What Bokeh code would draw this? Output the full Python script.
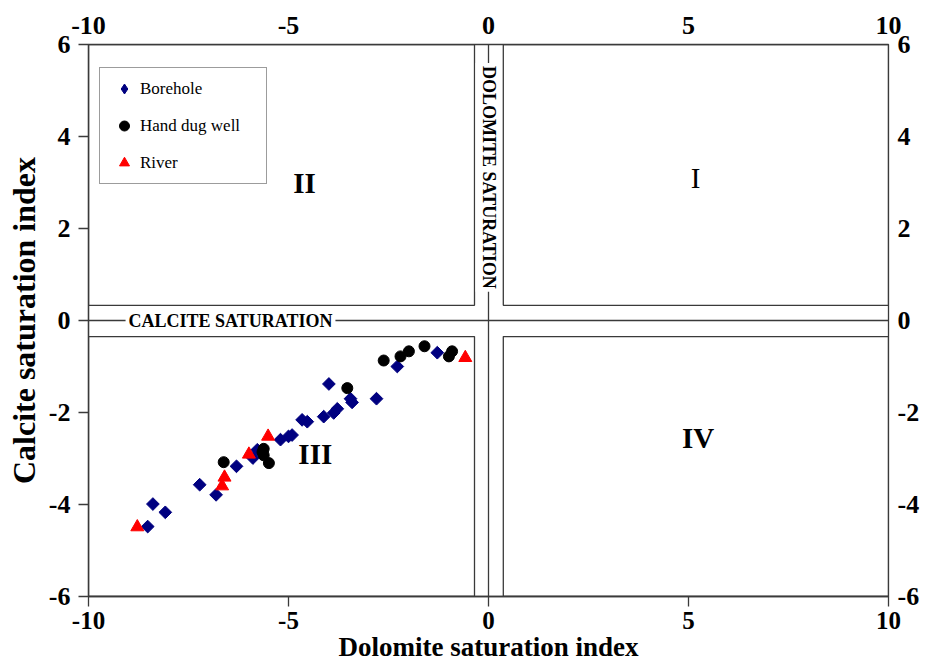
import numpy as np
from bokeh.plotting import figure
from bokeh.models import LinearAxis, FixedTicker, Span, Label
from bokeh.embed import file_html
from bokeh.resources import INLINE

# ---- data ----
borehole_x = [-8.52, -8.39, -8.08, -7.22, -6.81, -6.30, -5.89, -5.78, -5.20, -5.00, -4.91,
              -4.66, -4.53, -4.12, -3.87, -3.78, -3.99, -3.45, -3.41, -2.80, -2.28, -1.28]
borehole_y = [-4.48, -3.99, -4.17, -3.57, -3.79, -3.17, -2.99, -2.81, -2.59, -2.52, -2.49,
              -2.16, -2.20, -2.09, -2.01, -1.92, -1.38, -1.70, -1.78, -1.70, -1.00, -0.70]

well_x = [-6.62, -5.62, -5.62, -5.65, -5.49, -3.53, -2.62, -2.20, -1.99, -1.60, -0.99, -0.91]
well_y = [-3.08, -2.79, -2.93, -2.86, -3.10, -1.47, -0.87, -0.78, -0.67, -0.56, -0.78, -0.67]

river_x = [-8.78, -6.66, -6.60, -5.99, -5.51, -0.58]
river_y = [-4.49, -3.60, -3.41, -2.91, -2.52, -0.81]

x_ticks = [-10, -5, 0, 5, 10]
y_ticks = [-6, -4, -2, 0, 2, 4, 6]

# quadrant frames
box_left = [-10, 0.37, -10, 0.37]
box_right = [-0.35, 10, -0.35, 10]
box_top = [6, 6, -0.35, -0.35]
box_bottom = [0.33, 0.33, -6, -6]

quad_names = ["I", "II", "III", "IV"]
quad_x = [5.18, -4.6, -4.33, 5.24]
quad_y = [3.1, 2.98, -2.9, -2.55]
quad_style = ["normal", "bold", "bold", "bold"]

SERIF = "Liberation Serif"
LINE = "#3a3a3a"

p = figure(width=927, height=669, x_range=(-10, 10), y_range=(-6, 6),
           output_backend="svg", toolbar_location=None,
           min_border_left=88, min_border_right=39, min_border_top=44, min_border_bottom=73)
p.xgrid.visible = False
p.ygrid.visible = False
p.background_fill_color = "white"
p.border_fill_color = "white"
p.outline_line_color = LINE
p.outline_line_width = 1.3

def style_axis(ax, ticks, tick_out, standoff, line=True, size="26px"):
    ax.ticker = FixedTicker(ticks=ticks)
    ax.major_label_overrides = {t: str(t) for t in ticks}
    ax.major_label_text_font = SERIF
    ax.major_label_text_font_style = "bold"
    ax.major_label_text_font_size = size
    ax.major_label_text_color = "black"
    ax.major_tick_out = tick_out
    ax.major_tick_in = 0
    ax.minor_tick_out = 0
    ax.minor_tick_in = 0
    ax.major_tick_line_color = LINE if tick_out else None
    ax.major_tick_line_width = 1.3
    ax.axis_line_color = LINE if line else None
    ax.axis_line_width = 1.3
    ax.major_label_standoff = standoff

xb = p.xaxis[0]
yl = p.yaxis[0]
style_axis(xb, x_ticks, 10, 5, size="25px")
style_axis(yl, y_ticks, 10, 8)
xb.axis_label = "Dolomite saturation index"
xb.axis_label_text_font = SERIF
xb.axis_label_text_font_style = "bold"
xb.axis_label_text_font_size = "27px"
xb.axis_label_text_color = "black"
xb.axis_label_standoff = 0
yl.axis_label = "Calcite saturation index"
yl.axis_label_text_font = SERIF
yl.axis_label_text_font_style = "bold"
yl.axis_label_text_font_size = "32px"
yl.axis_label_text_color = "black"
yl.axis_label_standoff = 4

top_ax = LinearAxis()
right_ax = LinearAxis()
style_axis(top_ax, x_ticks, 0, 11, line=False)
style_axis(right_ax, y_ticks, 0, 9, line=False)
p.add_layout(top_ax, "above")
p.add_layout(right_ax, "right")

# quadrant boxes
p.quad(left=box_left, right=box_right, top=box_top, bottom=box_bottom,
       fill_alpha=0, line_color=LINE, line_width=1.3)

p.add_layout(Span(location=0, dimension="width", line_color=LINE, line_width=1.3))
p.add_layout(Span(location=0, dimension="height", line_color=LINE, line_width=1.3))

# hidden renderer that only supplies the diamond symbol of the legend
p.scatter(borehole_x, borehole_y, marker="diamond", size=14, fill_color="#000080",
          line_color="#000080", legend_label="Borehole", visible=False)

# data points
p.scatter(borehole_x, borehole_y, marker="square", angle=np.pi / 4, size=9,
          fill_color="#000080", line_color="#000080")
p.scatter(well_x, well_y, marker="circle", size=11,
          fill_color="black", line_color="black", legend_label="Hand dug well")
p.scatter(river_x, river_y, marker="triangle", size=13,
          fill_color="#ff0000", line_color="#ff0000", legend_label="River")

# saturation labels
p.add_layout(Label(x=-6.45, y=0, text="CALCITE SATURATION", text_font=SERIF,
                   text_font_style="bold", text_font_size="18px", text_align="center",
                   text_baseline="middle", text_color="black",
                   background_fill_color="white", padding=3))
p.add_layout(Label(x=0, y=3.11, text="DOLOMITE SATURATION", text_font=SERIF,
                   text_font_style="bold", text_font_size="18px", text_align="center",
                   text_baseline="middle", angle=-np.pi / 2, text_color="black",
                   background_fill_color="white", padding=3))

for name, qx, qy, st in zip(quad_names, quad_x, quad_y, quad_style):
    p.add_layout(Label(x=qx, y=qy, text=name, text_font=SERIF, text_font_style=st,
                       text_font_size="29px", text_align="center", text_baseline="middle",
                       text_color="black"))

# legend
lg = p.legend[0]
lg.location = (11, 412)
lg.border_line_color = LINE
lg.border_line_width = 1.3
lg.background_fill_color = "white"
lg.background_fill_alpha = 1
lg.inactive_fill_alpha = 0
lg.padding = 8
lg.margin = 0
lg.spacing = 12
lg.glyph_width = 32
lg.glyph_height = 25
lg.label_height = 25
lg.label_width = 118
lg.label_standoff = 0
lg.label_text_font = SERIF
lg.label_text_font_size = "17px"
lg.label_text_color = "black"

open("out.html", "w").write(file_html(p, INLINE))
